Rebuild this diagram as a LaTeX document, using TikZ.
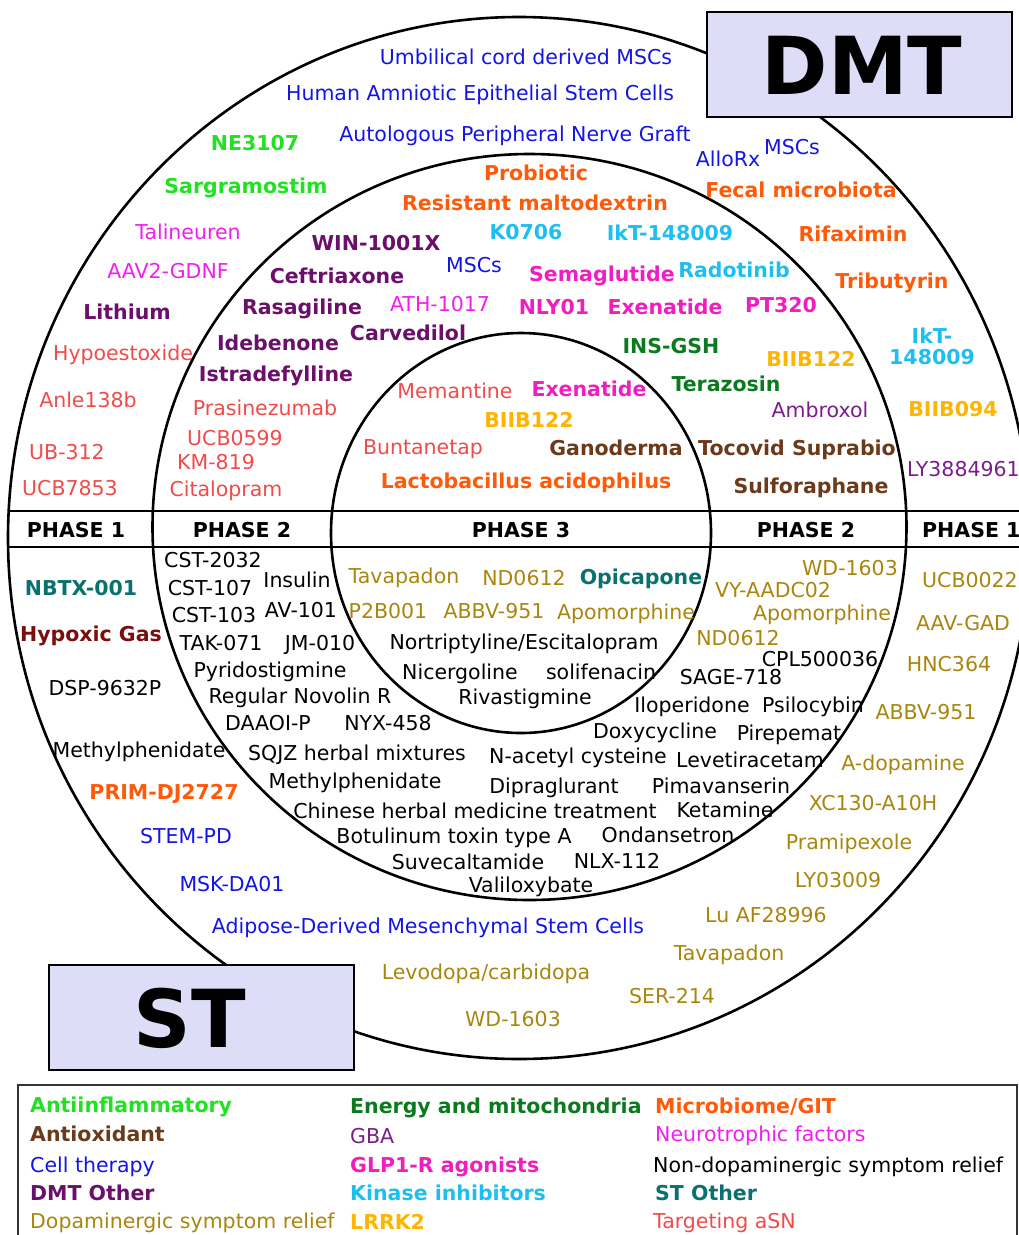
\documentclass[tikz,border=0pt]{standalone}
\usepackage{fontspec}
\setmainfont{DejaVu Sans}
\usepackage[HTML]{xcolor}
\usepackage{tikz}
\usetikzlibrary{positioning}

\definecolor{antiC}{HTML}{22E022}
\definecolor{oxidC}{HTML}{6B3A1A}
\definecolor{cellC}{HTML}{1414E6}
\definecolor{dmtoC}{HTML}{6B0F6B}
\definecolor{dopaC}{HTML}{A8860E}
\definecolor{energyC}{HTML}{0B7A1E}
\definecolor{gbaC}{HTML}{7B1E8C}
\definecolor{glpC}{HTML}{F01EBE}
\definecolor{kinC}{HTML}{1EBEF0}
\definecolor{lrrkC}{HTML}{FFB400}
\definecolor{microC}{HTML}{FF5A0A}
\definecolor{neuroC}{HTML}{F01EF0}
\definecolor{stoC}{HTML}{0B7070}
\definecolor{asnC}{HTML}{F04B4B}
\definecolor{gasC}{HTML}{7A0F0F}
\definecolor{boxC}{HTML}{DDDDF8}

\tikzset{
  lbl/.style={inner sep=0pt, text height=17pt, text depth=2pt, font=\fontsize{20.5}{24}\selectfont},
  blbl/.style={lbl, font=\fontsize{20.5}{24}\selectfont\bfseries},
  tAnti/.style={blbl, text=antiC},
  tOxid/.style={blbl, text=oxidC},
  tCell/.style={lbl, text=cellC},
  tDmto/.style={blbl, text=dmtoC},
  tDopa/.style={lbl, text=dopaC},
  tEnergy/.style={blbl, text=energyC},
  tGba/.style={lbl, text=gbaC},
  tGlp/.style={blbl, text=glpC},
  tKin/.style={blbl, text=kinC},
  tLrrk/.style={blbl, text=lrrkC},
  tMicro/.style={blbl, text=microC},
  tNeuro/.style={lbl, text=neuroC},
  tNondopa/.style={lbl, text=black},
  tSto/.style={blbl, text=stoC},
  tAsn/.style={lbl, text=asnC},
  tGas/.style={blbl, text=gasC},
  phase/.style={blbl, text=black},
  ring/.style={line width=2.6pt},
  bigbox/.style={draw, line width=2pt, fill=boxC},
  bigtext/.style={inner sep=0pt, font=\fontsize{80}{80}\selectfont\bfseries}
}

\begin{document}
\begin{tikzpicture}[x=1pt, y=-1pt]
\useasboundingbox (0,0) rectangle (1019,1235);

% rings and phase band
\draw[ring] (519,538) ellipse [x radius=511pt, y radius=521pt];
\draw[ring] (529.5,527) ellipse [x radius=377pt, y radius=373pt];
\draw[ring] (521,533) ellipse [x radius=190pt, y radius=200pt];
\draw[ring] (9,511) -- (1019,511);
\draw[ring] (9,547) -- (1019,547);

\node[phase] (ph1l) at (76,530) {PHASE 1};
\node[phase] (ph2l) at (242,530) {PHASE 2};
\node[phase] (ph3) at (521,530) {PHASE 3};
\node[phase] (ph2r) at (806,530) {PHASE 2};
\node[phase, anchor=west] (ph1r) at (922,530) {PHASE 1};

% DMT, phase 1
\node[tCell] (umbilical) at (526,57) {Umbilical cord derived MSCs};
\node[tCell] (amniotic) at (480,93) {Human Amniotic Epithelial Stem Cells};
\node[tCell] (nervegraft) at (515,134) {Autologous Peripheral Nerve Graft};
\node[tAnti] (ne3107) at (255,143) {NE3107};
\node[tAnti] (sargram) at (246,186) {Sargramostim};
\node[tNeuro] (talineuren) at (188,232) {Talineuren};
\node[tNeuro] (aav2gdnf) at (168,271) {AAV2-GDNF};
\node[tDmto] (lithium) at (127,312) {Lithium};
\node[tAsn] (hypoestox) at (123,353) {Hypoestoxide};
\node[tAsn] (anle) at (88,400) {Anle138b};
\node[tAsn] (ub312) at (67,452) {UB-312};
\node[tAsn] (ucb7853) at (70,488) {UCB7853};
\node[tCell] (allorx) at (728,159) {AlloRx};
\node[tCell] (mscsA) at (792,147) {MSCs};
\node[tMicro] (fecal) at (801,190) {Fecal microbiota};
\node[tMicro] (rifaximin) at (853,234) {Rifaximin};
\node[tMicro] (tributyrin) at (892,281) {Tributyrin};
\node[blbl, text=kinC, text height=, text depth=, align=center, font=\fontsize{20.5}{21}\selectfont\bfseries] (iktA) at (932,346) {IkT-\\148009};
\node[tLrrk] (biib094) at (953,409) {BIIB094};
\node[tGba, anchor=west] (ly388) at (907,469) {LY3884961};

% DMT, phase 2
\node[tMicro] (probiotic) at (536,173) {Probiotic};
\node[tMicro] (maltodex) at (535,203) {Resistant maltodextrin};
\node[tDmto] (win1001) at (376,243) {WIN-1001X};
\node[tKin] (k0706) at (526,232) {K0706};
\node[tKin] (iktB) at (670,233) {IkT-148009};
\node[tDmto] (ceftriax) at (337,276) {Ceftriaxone};
\node[tCell] (mscsB) at (474,265) {MSCs};
\node[tGlp] (semaglut) at (602,274) {Semaglutide};
\node[tKin] (radotinib) at (734,270) {Radotinib};
\node[tDmto] (rasagiline) at (302,307) {Rasagiline};
\node[tNeuro] (ath1017) at (440,304) {ATH-1017};
\node[tGlp] (nly01) at (554,307) {NLY01};
\node[tGlp] (exenB) at (665,307) {Exenatide};
\node[tGlp] (pt320) at (781,305) {PT320};
\node[tDmto] (idebenone) at (278,343) {Idebenone};
\node[tDmto] (carvedilol) at (408,333) {Carvedilol};
\node[tEnergy] (insgsh) at (671,346) {INS-GSH};
\node[tLrrk] (biibB) at (811,359) {BIIB122};
\node[tDmto] (istradef) at (276,374) {Istradefylline};
\node[tEnergy] (terazosin) at (726,384) {Terazosin};
\node[tAsn] (prasinez) at (265,408) {Prasinezumab};
\node[tGba] (ambroxol) at (820,410) {Ambroxol};
\node[tAsn] (ucb0599) at (235,438) {UCB0599};
\node[tAsn] (km819) at (216,462) {KM-819};
\node[tAsn] (citalopram) at (226,489) {Citalopram};
\node[tOxid] (tocovid) at (797,448) {Tocovid Suprabio};
\node[tOxid] (sulforaph) at (811,486) {Sulforaphane};

% DMT, phase 3
\node[tAsn] (memantine) at (455,391) {Memantine};
\node[tGlp] (exenC) at (589,389) {Exenatide};
\node[tLrrk] (biibC) at (529,420) {BIIB122};
\node[tAsn] (buntanetap) at (423,447) {Buntanetap};
\node[tOxid] (ganoderma) at (616,448) {Ganoderma};
\node[tMicro] (lactobac) at (526,481) {Lactobacillus acidophilus};

% ST, phase 1
\node[tSto] (nbtx) at (81,588) {NBTX-001};
\node[tGas] (hypoxic) at (91,634) {Hypoxic Gas};
\node[tNondopa] (dsp) at (105,688) {DSP-9632P};
\node[tNondopa] (methylA) at (139,750) {Methylphenidate};
\node[tMicro] (prim) at (164,792) {PRIM-DJ2727};
\node[tCell] (stempd) at (186,836) {STEM-PD};
\node[tCell] (mskda) at (232,884) {MSK-DA01};
\node[tCell] (adipose) at (428,926) {Adipose-Derived Mesenchymal Stem Cells};
\node[tDopa] (levodopa) at (486,972) {Levodopa/carbidopa};
\node[tDopa] (wdA) at (513,1019) {WD-1603};
\node[tDopa] (ser214) at (672,996) {SER-214};
\node[tDopa] (tavaA) at (729,953) {Tavapadon};
\node[tDopa] (luaf) at (766,915) {Lu AF28996};
\node[tDopa] (ly03009) at (838,880) {LY03009};
\node[tDopa] (pramipex) at (849,842) {Pramipexole};
\node[tDopa] (xc130) at (873,803) {XC130-A10H};
\node[tDopa] (adopamine) at (903,763) {A-dopamine};
\node[tDopa] (abbvA) at (926,712) {ABBV-951};
\node[tDopa] (hnc364) at (949,664) {HNC364};
\node[tDopa] (aavgad) at (963,623) {AAV-GAD};
\node[tDopa] (ucb0022) at (970,580) {UCB0022};

% ST, phase 2
\node[tNondopa] (cst2032) at (213,560) {CST-2032};
\node[tNondopa] (cst107) at (210,588) {CST-107};
\node[tNondopa] (insulin) at (297,580) {Insulin};
\node[tNondopa] (cst103) at (214,615) {CST-103};
\node[tNondopa] (av101) at (301,610) {AV-101};
\node[tNondopa] (tak071) at (221,643) {TAK-071};
\node[tNondopa] (jm010) at (320,643) {JM-010};
\node[tNondopa] (pyrido) at (270,670) {Pyridostigmine};
\node[tNondopa] (novolin) at (300,696) {Regular Novolin R};
\node[tNondopa] (daaoi) at (268,723) {DAAOI-P};
\node[tNondopa] (nyx458) at (388,723) {NYX-458};
\node[tNondopa] (sqjz) at (357,753) {SQJZ herbal mixtures};
\node[tNondopa] (methylB) at (355,781) {Methylphenidate};
\node[tNondopa] (chinese) at (475,811) {Chinese herbal medicine treatment};
\node[tNondopa] (botulinum) at (454,836) {Botulinum toxin type A};
\node[tNondopa] (suvecal) at (468,862) {Suvecaltamide};
\node[tNondopa] (nlx112) at (617,861) {NLX-112};
\node[tNondopa] (valilox) at (531,885) {Valiloxybate};
\node[tNondopa] (ondanset) at (668,835) {Ondansetron};
\node[tNondopa] (ketamine) at (725,810) {Ketamine};
\node[tNondopa] (pimavan) at (721,786) {Pimavanserin};
\node[tNondopa] (dipraglu) at (554,786) {Dipraglurant};
\node[tNondopa] (nac) at (578,756) {N-acetyl cysteine};
\node[tNondopa] (levetir) at (750,760) {Levetiracetam};
\node[tNondopa] (doxy) at (655,731) {Doxycycline};
\node[tNondopa] (pirepemat) at (789,733) {Pirepemat};
\node[tNondopa] (iloperid) at (692,705) {Iloperidone};
\node[tNondopa] (psilocybin) at (813,705) {Psilocybin};
\node[tNondopa] (sage718) at (731,677) {SAGE-718};
\node[tNondopa] (cpl) at (820,659) {CPL500036};
\node[tDopa] (ndB) at (738,638) {ND0612};
\node[tDopa] (apoB) at (822,613) {Apomorphine};
\node[tDopa] (vyaadc) at (773,590) {VY-AADC02};
\node[tDopa] (wdB) at (850,568) {WD-1603};

% ST, phase 3
\node[tDopa] (tavaC) at (404,576) {Tavapadon};
\node[tDopa] (ndC) at (524,578) {ND0612};
\node[tSto] (opicapone) at (641,577) {Opicapone};
\node[tDopa] (p2b001) at (388,611) {P2B001};
\node[tDopa] (abbvC) at (494,611) {ABBV-951};
\node[tDopa] (apoC) at (626,612) {Apomorphine};
\node[tNondopa] (nortrip) at (524,642) {Nortriptyline/Escitalopram};
\node[tNondopa] (nicergol) at (460,672) {Nicergoline};
\node[tNondopa] (solifen) at (601,672) {solifenacin};
\node[tNondopa] (rivastig) at (525,697) {Rivastigmine};

% group boxes
\draw[bigbox] (707,12) rectangle (1012,117);
\node[bigtext] (dmt) at (862,65) {DMT};
\draw[bigbox] (49,965) rectangle (354,1070);
\node[bigtext] (st) at (190,1018) {ST};

% legend
\draw[line width=1.5pt, draw=black!80] (18,1085) rectangle (1017,1245);
\node[tAnti, anchor=west] (lgAnti) at (30,1105) {Antiinflammatory};
\node[tOxid, anchor=west] (lgOxid) at (30,1134) {Antioxidant};
\node[tCell, anchor=west] (lgCell) at (30,1165) {Cell therapy};
\node[tDmto, anchor=west] (lgDmto) at (30,1193) {DMT Other};
\node[tDopa, anchor=west] (lgDopa) at (30,1221) {Dopaminergic symptom relief};
\node[tEnergy, anchor=west] (lgEnergy) at (350,1106) {Energy and mitochondria};
\node[tGba, anchor=west] (lgGba) at (350,1136) {GBA};
\node[tGlp, anchor=west] (lgGlp) at (350,1165) {GLP1-R agonists};
\node[tKin, anchor=west] (lgKin) at (350,1193) {Kinase inhibitors};
\node[tLrrk, anchor=west] (lgLrrk) at (350,1222) {LRRK2};
\node[tMicro, anchor=west] (lgMicro) at (655,1106) {Microbiome/GIT};
\node[tNeuro, anchor=west] (lgNeuro) at (655,1134) {Neurotrophic factors};
\node[tNondopa, anchor=west] (lgNondopa) at (653,1165) {Non-dopaminergic symptom relief};
\node[tSto, anchor=west] (lgSto) at (655,1193) {ST Other};
\node[tAsn, anchor=west] (lgAsn) at (653,1221) {Targeting aSN};
\end{tikzpicture}
\end{document}
